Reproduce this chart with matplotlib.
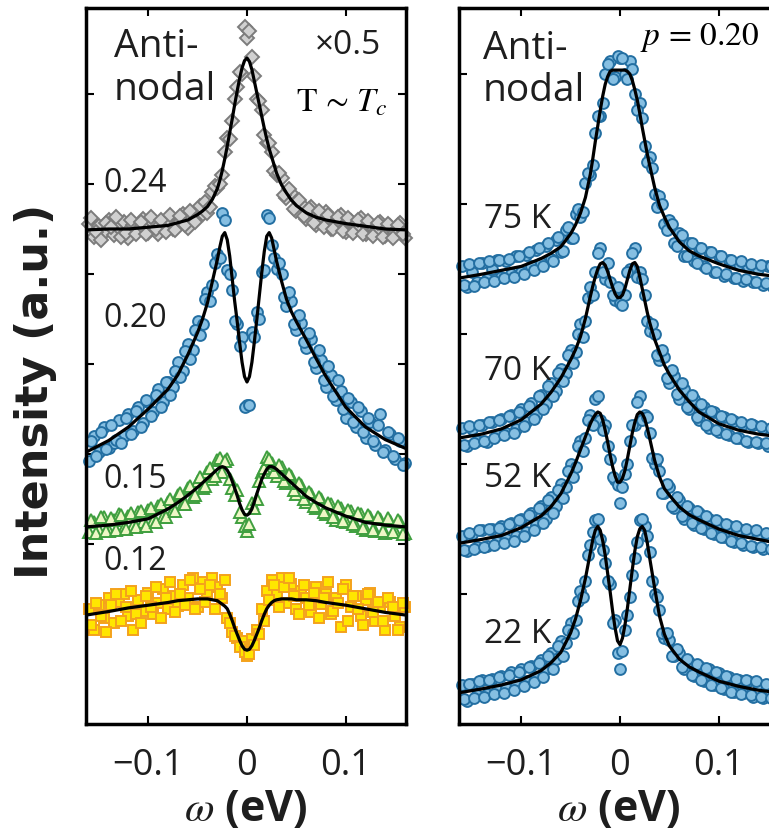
"""Antinodal spectra: doping series (left) and temperature series at p = 0.20 (right)."""
import matplotlib

matplotlib.use("Agg")
import matplotlib.pyplot as plt

plt.rcParams["font.family"] = ["Open Sans", "DejaVu Sans"]
plt.rcParams["mathtext.fontset"] = "stix"

# energy grids of the measured points (eV): two interleaved sweeps
omega = [-0.160, -0.155, -0.150, -0.145, -0.140, -0.135, -0.130, -0.125, -0.120,
         -0.115, -0.110, -0.105, -0.100, -0.095, -0.090, -0.085, -0.080, -0.075,
         -0.070, -0.065, -0.060, -0.055, -0.050, -0.045, -0.040, -0.035, -0.030,
         -0.025, -0.020, -0.015, -0.010, -0.005, 0.000, 0.005, 0.010, 0.015,
         0.020, 0.025, 0.030, 0.035, 0.040, 0.045, 0.050, 0.055, 0.060, 0.065,
         0.070, 0.075, 0.080, 0.085, 0.090, 0.095, 0.100, 0.105, 0.110, 0.115,
         0.120, 0.125, 0.130, 0.135, 0.140, 0.145, 0.150, 0.155, 0.160]
omega_b = [-0.1575, -0.1525, -0.1475, -0.1425, -0.1375, -0.1325, -0.1275, -0.1225,
           -0.1175, -0.1125, -0.1075, -0.1025, -0.0975, -0.0925, -0.0875, -0.0825,
           -0.0775, -0.0725, -0.0675, -0.0625, -0.0575, -0.0525, -0.0475, -0.0425,
           -0.0375, -0.0325, -0.0275, -0.0225, -0.0175, -0.0125, -0.0075, -0.0025,
           0.0025, 0.0075, 0.0125, 0.0175, 0.0225, 0.0275, 0.0325, 0.0375, 0.0425,
           0.0475, 0.0525, 0.0575, 0.0625, 0.0675, 0.0725, 0.0775, 0.0825, 0.0875,
           0.0925, 0.0975, 0.1025, 0.1075, 0.1125, 0.1175, 0.1225, 0.1275, 0.1325,
           0.1375, 0.1425, 0.1475, 0.1525, 0.1575]

# energy grid of the fit curves (eV)
omega_fit = [-0.163, -0.14, -0.12, -0.10, -0.08, -0.07, -0.06, -0.05, -0.045, -0.04,
             -0.035, -0.03, -0.0275, -0.025, -0.0225, -0.02, -0.0175, -0.015, -0.0125,
             -0.01, -0.0075, -0.005, -0.0025, 0.0, 0.0025, 0.005, 0.0075, 0.01, 0.0125,
             0.015, 0.0175, 0.02, 0.0225, 0.025, 0.0275, 0.03, 0.035, 0.04, 0.045, 0.05,
             0.06, 0.07, 0.08, 0.10, 0.12, 0.14, 0.161]

# left panel, doping series (offset intensities, a.u.)
p24_data = [5.56, 5.41, 5.53, 5.46, 5.60, 5.43, 5.51, 5.58, 5.40, 5.55, 5.49, 5.61, 5.46,
            5.57, 5.45, 5.55, 5.61, 5.50, 5.56, 5.67, 5.51, 5.67, 5.72, 5.67, 5.68, 5.91,
            5.96, 6.10, 6.51, 6.70, 7.08, 7.22, 7.62, 7.41, 6.95, 6.82, 6.46, 6.36, 6.10,
            6.07, 5.84, 5.90, 5.70, 5.78, 5.61, 5.74, 5.55, 5.64, 5.69, 5.50, 5.58, 5.66,
            5.47, 5.59, 5.50, 5.62, 5.44, 5.55, 5.47, 5.58, 5.42, 5.53, 5.46, 5.57, 5.40]
p24_data_b = [5.62, 5.47, 5.38, 5.57, 5.52, 5.63, 5.41, 5.46, 5.60, 5.45, 5.58, 5.44,
              5.63, 5.50, 5.60, 5.47, 5.65, 5.49, 5.64, 5.55, 5.70, 5.58, 5.76, 5.80,
              5.74, 5.98, 6.00, 6.36, 6.50, 6.95, 7.25, 7.75, 7.70, 7.20, 6.92, 6.55,
              6.46, 6.15, 6.12, 5.88, 5.94, 5.72, 5.82, 5.64, 5.72, 5.57, 5.70, 5.52,
              5.65, 5.50, 5.63, 5.48, 5.62, 5.46, 5.60, 5.44, 5.59, 5.42, 5.57, 5.41,
              5.56, 5.40, 5.55, 5.44]
p24_fit = [5.49, 5.50, 5.50, 5.52, 5.54, 5.57, 5.60, 5.66, 5.70, 5.75, 5.83, 5.95, 6.04,
           6.15, 6.28, 6.42, 6.57, 6.72, 6.88, 7.03, 7.17, 7.29, 7.37, 7.40, 7.36, 7.27,
           7.14, 7.01, 6.88, 6.75, 6.62, 6.50, 6.39, 6.30, 6.21, 6.12, 5.99, 5.90, 5.82,
           5.76, 5.68, 5.63, 5.60, 5.56, 5.53, 5.50, 5.49]

p20_data = [2.92, 3.20, 3.02, 3.30, 3.07, 3.12, 3.38, 3.20, 3.44, 3.26, 3.52, 3.35, 3.58,
            3.47, 3.72, 3.58, 3.80, 3.75, 4.02, 3.92, 4.22, 4.15, 4.48, 4.45, 4.80, 4.88,
            5.22, 5.68, 5.05, 4.82, 4.45, 4.30, 3.55, 4.36, 4.58, 5.02, 5.66, 5.32, 5.06,
            5.00, 4.64, 4.70, 4.38, 4.46, 4.18, 4.28, 3.96, 4.05, 3.74, 3.88, 3.60, 3.70,
            3.40, 3.58, 3.30, 3.48, 3.18, 3.36, 3.10, 3.45, 3.05, 3.22, 2.95, 3.15, 2.90]
p20_data_b = [3.14, 2.98, 3.24, 3.06, 3.32, 3.16, 3.12, 3.40, 3.22, 3.48, 3.30, 3.60,
              3.42, 3.66, 3.52, 3.80, 3.66, 3.92, 3.86, 4.14, 4.06, 4.38, 4.32, 4.72,
              4.70, 5.12, 5.18, 5.60, 5.00, 4.48, 4.20, 3.52, 3.55, 4.30, 4.50, 5.05,
              5.62, 5.18, 5.12, 4.75, 4.80, 4.45, 4.55, 4.25, 4.34, 4.02, 4.15, 3.82,
              3.98, 3.65, 3.82, 3.50, 3.62, 3.36, 3.52, 3.25, 3.40, 3.14, 3.32, 3.02,
              3.25, 2.98, 3.18, 2.88]
p20_fit = [3.02, 3.15, 3.30, 3.50, 3.72, 3.88, 4.10, 4.35, 4.50, 4.68, 4.92, 5.16, 5.30,
           5.42, 5.46, 5.38, 5.20, 4.95, 4.70, 4.48, 4.24, 4.02, 3.86, 3.80, 3.86, 4.02,
           4.25, 4.50, 4.76, 5.02, 5.25, 5.42, 5.46, 5.40, 5.27, 5.14, 4.92, 4.72, 4.58,
           4.47, 4.27, 4.06, 3.86, 3.52, 3.30, 3.16, 3.06]

p15_data = [2.13, 2.25, 2.16, 2.30, 2.14, 2.27, 2.33, 2.18, 2.31, 2.20, 2.36, 2.25, 2.38,
            2.26, 2.42, 2.30, 2.47, 2.38, 2.55, 2.44, 2.62, 2.52, 2.70, 2.62, 2.80, 2.72,
            2.93, 2.80, 2.95, 2.62, 2.60, 2.30, 2.14, 2.46, 2.50, 2.80, 2.97, 2.90, 2.76,
            2.86, 2.68, 2.76, 2.56, 2.66, 2.47, 2.56, 2.40, 2.50, 2.33, 2.44, 2.27, 2.40,
            2.24, 2.37, 2.20, 2.33, 2.16, 2.30, 2.14, 2.28, 2.12, 2.26, 2.15, 2.24, 2.12]
p15_data_b = [2.27, 2.12, 2.30, 2.15, 2.29, 2.16, 2.32, 2.17, 2.35, 2.19, 2.37, 2.20,
              2.40, 2.24, 2.44, 2.30, 2.50, 2.37, 2.57, 2.45, 2.64, 2.54, 2.74, 2.65,
              2.84, 2.76, 2.96, 2.92, 2.72, 2.55, 2.36, 2.20, 2.22, 2.40, 2.70, 2.84,
              2.94, 2.80, 2.88, 2.70, 2.78, 2.60, 2.68, 2.50, 2.58, 2.42, 2.52, 2.36,
              2.46, 2.30, 2.42, 2.26, 2.38, 2.22, 2.34, 2.18, 2.32, 2.16, 2.30, 2.14,
              2.29, 2.13, 2.27, 2.11]
p15_fit = [2.19, 2.21, 2.24, 2.28, 2.39, 2.46, 2.54, 2.63, 2.68, 2.73, 2.78, 2.83, 2.85,
           2.86, 2.85, 2.82, 2.77, 2.70, 2.62, 2.54, 2.45, 2.38, 2.33, 2.32, 2.34, 2.39,
           2.47, 2.56, 2.64, 2.72, 2.78, 2.83, 2.86, 2.86, 2.85, 2.83, 2.78, 2.73, 2.68,
           2.63, 2.53, 2.46, 2.40, 2.31, 2.24, 2.21, 2.19]

p12_data = [1.28, 1.05, 1.32, 1.18, 1.40, 1.12, 1.36, 1.44, 1.20, 1.05, 1.38, 1.26, 1.46,
            1.22, 1.35, 1.50, 1.28, 1.42, 1.31, 1.55, 1.40, 1.62, 1.30, 1.58, 1.45, 1.62,
            1.52, 1.40, 1.18, 1.02, 0.96, 0.92, 0.76, 0.95, 1.05, 1.28, 1.48, 1.60, 1.45,
            1.62, 1.35, 1.56, 1.28, 1.48, 1.40, 1.25, 1.52, 1.33, 1.45, 1.22, 1.40, 1.08,
            1.55, 1.30, 1.42, 1.20, 1.38, 1.46, 1.15, 1.30, 1.04, 1.36, 1.20, 1.08, 1.30]
p12_data_b = [1.10, 1.35, 1.20, 1.02, 1.32, 1.45, 1.15, 1.30, 1.48, 1.22, 1.12, 1.42,
              1.30, 1.52, 1.18, 1.40, 1.58, 1.25, 1.45, 1.32, 1.60, 1.28, 1.50, 1.36,
              1.55, 1.28, 1.45, 1.60, 1.12, 0.98, 0.86, 0.80, 0.78, 0.88, 1.00, 1.15,
              1.38, 1.55, 1.30, 1.52, 1.62, 1.42, 1.22, 1.55, 1.32, 1.46, 1.18, 1.40,
              1.58, 1.26, 1.35, 1.50, 1.14, 1.42, 1.28, 1.10, 1.45, 1.24, 1.36, 1.15,
              1.40, 1.30, 1.05, 1.34]
p12_fit = [1.21, 1.25, 1.29, 1.32, 1.35, 1.37, 1.38, 1.39, 1.39, 1.39, 1.38, 1.37, 1.35,
           1.33, 1.31, 1.28, 1.22, 1.15, 1.07, 1.00, 0.93, 0.87, 0.83, 0.82, 0.83, 0.87,
           0.93, 1.00, 1.07, 1.15, 1.22, 1.28, 1.32, 1.35, 1.37, 1.38, 1.39, 1.39, 1.39,
           1.38, 1.38, 1.37, 1.35, 1.32, 1.28, 1.24, 1.21]

# right panel, temperature series at p = 0.20
t75_data = [3.52, 3.36, 3.48, 3.40, 3.55, 3.42, 3.50, 3.57, 3.44, 3.56, 3.46, 3.60, 3.48,
            3.61, 3.52, 3.65, 3.55, 3.68, 3.58, 3.72, 3.63, 3.80, 3.74, 3.92, 3.90, 4.16,
            4.22, 4.55, 4.68, 5.00, 5.10, 4.98, 5.12, 5.00, 5.10, 4.85, 4.78, 4.45, 4.36,
            4.08, 4.06, 3.85, 3.88, 3.70, 3.78, 3.60, 3.70, 3.56, 3.66, 3.52, 3.63, 3.48,
            3.60, 3.45, 3.57, 3.43, 3.54, 3.41, 3.52, 3.40, 3.50, 3.38, 3.52, 3.36, 3.47]
t75_data_b = [3.38, 3.54, 3.37, 3.55, 3.40, 3.56, 3.41, 3.57, 3.43, 3.58, 3.44, 3.60,
              3.46, 3.63, 3.49, 3.66, 3.52, 3.70, 3.56, 3.75, 3.64, 3.82, 3.74, 3.96,
              3.94, 4.24, 4.30, 4.68, 4.78, 5.08, 4.96, 5.14, 5.12, 4.96, 5.04, 4.72,
              4.66, 4.32, 4.28, 3.98, 4.00, 3.80, 3.85, 3.68, 3.76, 3.60, 3.70, 3.55,
              3.66, 3.51, 3.63, 3.48, 3.60, 3.46, 3.57, 3.43, 3.56, 3.42, 3.54, 3.40,
              3.53, 3.39, 3.52, 3.38]
t75_fit = [3.43, 3.46, 3.49, 3.52, 3.58, 3.62, 3.67, 3.77, 3.84, 3.93, 4.05, 4.23, 4.35,
           4.48, 4.60, 4.72, 4.83, 4.92, 4.98, 5.02, 5.03, 5.03, 5.03, 5.03, 5.03, 5.03,
           5.02, 5.00, 4.95, 4.88, 4.80, 4.70, 4.59, 4.49, 4.39, 4.30, 4.13, 3.99, 3.90,
           3.82, 3.71, 3.64, 3.60, 3.54, 3.49, 3.46, 3.44]

t70_data = [2.28, 2.14, 2.27, 2.18, 2.30, 2.17, 2.32, 2.22, 2.35, 2.24, 2.38, 2.27, 2.42,
            2.32, 2.47, 2.38, 2.53, 2.46, 2.62, 2.56, 2.73, 2.70, 2.88, 2.86, 3.08, 3.10,
            3.36, 3.48, 3.66, 3.42, 3.40, 3.26, 3.24, 3.30, 3.50, 3.66, 3.48, 3.30, 3.02,
            3.00, 2.80, 2.82, 2.62, 2.68, 2.50, 2.58, 2.42, 2.50, 2.34, 2.44, 2.28, 2.40,
            2.25, 2.36, 2.22, 2.33, 2.20, 2.31, 2.17, 2.30, 2.16, 2.28, 2.14, 2.26, 2.15]
t70_data_b = [2.15, 2.29, 2.16, 2.30, 2.18, 2.32, 2.20, 2.34, 2.22, 2.37, 2.24, 2.40,
              2.29, 2.45, 2.35, 2.52, 2.42, 2.60, 2.52, 2.70, 2.64, 2.84, 2.78, 3.00,
              2.98, 3.28, 3.30, 3.62, 3.48, 3.55, 3.30, 3.36, 3.22, 3.48, 3.62, 3.44,
              3.42, 3.10, 3.08, 2.84, 2.88, 2.66, 2.72, 2.54, 2.62, 2.44, 2.53, 2.36,
              2.46, 2.30, 2.41, 2.26, 2.37, 2.23, 2.35, 2.20, 2.32, 2.18, 2.31, 2.17,
              2.29, 2.16, 2.28, 2.14]
t70_fit = [2.20, 2.23, 2.27, 2.34, 2.46, 2.55, 2.66, 2.80, 2.88, 2.98, 3.12, 3.29, 3.37,
           3.44, 3.50, 3.54, 3.55, 3.53, 3.48, 3.42, 3.36, 3.31, 3.28, 3.28, 3.30, 3.35,
           3.42, 3.49, 3.54, 3.55, 3.52, 3.44, 3.35, 3.26, 3.17, 3.09, 2.96, 2.86, 2.76,
           2.69, 2.57, 2.48, 2.40, 2.31, 2.26, 2.23, 2.21]

t52_data = [1.45, 1.33, 1.46, 1.36, 1.49, 1.37, 1.50, 1.40, 1.52, 1.42, 1.55, 1.45, 1.58,
            1.48, 1.62, 1.53, 1.68, 1.58, 1.75, 1.68, 1.85, 1.82, 2.00, 1.98, 2.18, 2.20,
            2.38, 2.50, 2.34, 2.30, 2.04, 1.88, 1.70, 1.92, 2.18, 2.30, 2.52, 2.38, 2.24,
            2.00, 1.95, 1.78, 1.82, 1.66, 1.72, 1.58, 1.66, 1.53, 1.62, 1.50, 1.58, 1.46,
            1.55, 1.44, 1.52, 1.40, 1.50, 1.38, 1.48, 1.36, 1.46, 1.35, 1.45, 1.34, 1.43]
t52_data_b = [1.34, 1.47, 1.35, 1.49, 1.36, 1.50, 1.38, 1.51, 1.39, 1.54, 1.41, 1.57,
              1.45, 1.61, 1.49, 1.66, 1.55, 1.72, 1.62, 1.80, 1.74, 1.95, 1.90, 2.14,
              2.10, 2.34, 2.30, 2.52, 2.26, 2.14, 1.90, 1.84, 1.82, 2.00, 2.30, 2.48,
              2.34, 2.36, 2.05, 2.04, 1.78, 1.85, 1.68, 1.75, 1.60, 1.68, 1.55, 1.64,
              1.51, 1.60, 1.47, 1.57, 1.44, 1.54, 1.41, 1.52, 1.39, 1.50, 1.37, 1.49,
              1.36, 1.47, 1.35, 1.46]
t52_fit = [1.39, 1.42, 1.45, 1.51, 1.60, 1.67, 1.77, 1.92, 2.01, 2.11, 2.21, 2.31, 2.35,
           2.38, 2.40, 2.39, 2.34, 2.26, 2.17, 2.07, 1.98, 1.91, 1.86, 1.86, 1.89, 1.95,
           2.04, 2.14, 2.24, 2.32, 2.38, 2.40, 2.39, 2.35, 2.28, 2.20, 2.03, 1.90, 1.81,
           1.76, 1.67, 1.61, 1.57, 1.50, 1.45, 1.42, 1.39]

t22_data = [0.30, 0.18, 0.31, 0.22, 0.34, 0.23, 0.35, 0.26, 0.37, 0.28, 0.40, 0.30, 0.42,
            0.33, 0.45, 0.36, 0.49, 0.42, 0.55, 0.50, 0.64, 0.62, 0.78, 0.80, 1.02, 1.10,
            1.38, 1.57, 1.42, 1.24, 1.08, 0.80, 0.42, 0.72, 0.98, 1.28, 1.57, 1.52, 1.32,
            1.00, 0.88, 0.66, 0.65, 0.52, 0.55, 0.42, 0.48, 0.37, 0.45, 0.33, 0.42, 0.30,
            0.39, 0.27, 0.36, 0.25, 0.34, 0.24, 0.33, 0.21, 0.31, 0.20, 0.30, 0.19, 0.28]
t22_data_b = [0.19, 0.31, 0.20, 0.33, 0.21, 0.34, 0.23, 0.36, 0.24, 0.38, 0.26, 0.40,
              0.29, 0.44, 0.32, 0.47, 0.36, 0.52, 0.42, 0.60, 0.52, 0.72, 0.70, 0.95,
              0.98, 1.30, 1.48, 1.58, 1.34, 1.10, 0.78, 0.55, 0.56, 0.84, 1.15, 1.40,
              1.58, 1.45, 1.10, 0.98, 0.70, 0.70, 0.52, 0.58, 0.44, 0.50, 0.38, 0.46,
              0.34, 0.43, 0.30, 0.40, 0.28, 0.37, 0.25, 0.35, 0.23, 0.34, 0.22, 0.33,
              0.21, 0.31, 0.20, 0.29]
t22_fit = [0.24, 0.27, 0.30, 0.34, 0.41, 0.47, 0.55, 0.70, 0.81, 0.95, 1.12, 1.32, 1.42,
           1.49, 1.52, 1.49, 1.41, 1.30, 1.16, 1.02, 0.87, 0.74, 0.64, 0.61, 0.66, 0.76,
           0.89, 1.04, 1.19, 1.33, 1.44, 1.50, 1.52, 1.49, 1.40, 1.28, 1.05, 0.83, 0.69,
           0.60, 0.50, 0.44, 0.40, 0.33, 0.29, 0.26, 0.24]

doping_labels = ["0.24", "0.20", "0.15", "0.12"]
doping_label_y = [6.00, 4.51, 2.72, 1.81]
temp_labels = ["75 K", "70 K", "52 K", "22 K"]
temp_label_y = [3.88, 2.71, 1.89, 0.685]

TEXT = "#1e1e1e"
BLUE = dict(marker="o", ms=7.8, face="#86bfe2", edge="#236fa2")


def draw_series(ax, data, data_b, fit, marker, ms, face, edge):
    for x, y in [(omega, data), (omega_b, data_b)]:
        ax.plot(x, y, linestyle="none", marker=marker, markersize=ms,
                markerfacecolor=face, markeredgecolor=edge, markeredgewidth=1.4,
                clip_on=False, zorder=2)
    ax.plot(omega_fit, fit, color="black", linewidth=2.3, zorder=3)


def style_axes(ax, yticks, ytop):
    ax.set_xlim(-0.163, 0.161)
    ax.set_ylim(0, ytop)
    ax.set_xticks([-0.1, 0.0, 0.1])
    ax.set_xticklabels(["\u22120.1", "0", "0.1"])
    ax.set_yticks(yticks)
    ax.set_yticklabels([])
    ax.tick_params(direction="in", length=6, width=1.5, top=True, right=True,
                   labelsize=26, pad=17, colors="black", labelcolor=TEXT)
    for spine in ax.spines.values():
        spine.set_linewidth(2.5)
    ax.set_xlabel(r"$\omega$ (eV)", fontsize=31, fontweight="bold", labelpad=3,
                  color=TEXT)


fig = plt.figure(figsize=(7.69, 8.35), dpi=100)
ax1 = fig.add_axes([86 / 769, 1 - 724 / 835, 320 / 769, 716 / 835])
ax2 = fig.add_axes([459 / 769, 1 - 724 / 835, 320 / 769, 716 / 835])

# left panel
draw_series(ax1, p24_data, p24_data_b, p24_fit, "D", 7.2, "#d0d0d0", "#7c7c7c")
draw_series(ax1, p20_data, p20_data_b, p20_fit, **BLUE)
draw_series(ax1, p15_data, p15_data_b, p15_fit, "^", 8.5, "#eef7c6", "#3f9f3f")
draw_series(ax1, p12_data, p12_data_b, p12_fit, "s", 7.0, "#ffe600", "#f4a21c")
style_axes(ax1, [2, 3, 4, 5, 6, 7], 716 / 90)

for lab, y in zip(doping_labels, doping_label_y):
    ax1.text(-0.1455, y, lab, fontsize=23, color=TEXT, ha="left", va="center")
ax1.text(-0.135, 7.73, "Anti-\nnodal", fontsize=28, color=TEXT, ha="left", va="top",
         linespacing=1.15)
ax1.text(0.136, 7.54, "\u00d70.5", fontsize=24, color=TEXT, ha="right", va="center")
ax1.text(0.142, 6.90, r"$\mathrm{T}\,\sim\,T_c$", fontsize=24, color="black",
         ha="right", va="center")

# right panel
for data, data_b, fit in [(t75_data, t75_data_b, t75_fit),
                          (t70_data, t70_data_b, t70_fit),
                          (t52_data, t52_data_b, t52_fit),
                          (t22_data, t22_data_b, t22_fit)]:
    draw_series(ax2, data, data_b, fit, **BLUE)
style_axes(ax2, [1, 2, 3, 4, 5], 716 / 130)

for lab, y in zip(temp_labels, temp_label_y):
    ax2.text(-0.138, y, lab, fontsize=24, color=TEXT, ha="left", va="center")
ax2.text(-0.139, 5.34, "Anti-\nnodal", fontsize=28, color=TEXT, ha="left", va="top",
         linespacing=1.15)
ax2.text(0.141, 5.28, r"$p\,=\,0.20$", fontsize=24, color="black", ha="right",
         va="center")

fig.text(36 / 769, 1 - 391 / 835, "Intensity (a.u.)", rotation=90, fontsize=32,
         fontweight="bold", family=["DejaVu Sans"], color=TEXT, ha="center",
         va="center")

fig.savefig("out.png", dpi=100)
